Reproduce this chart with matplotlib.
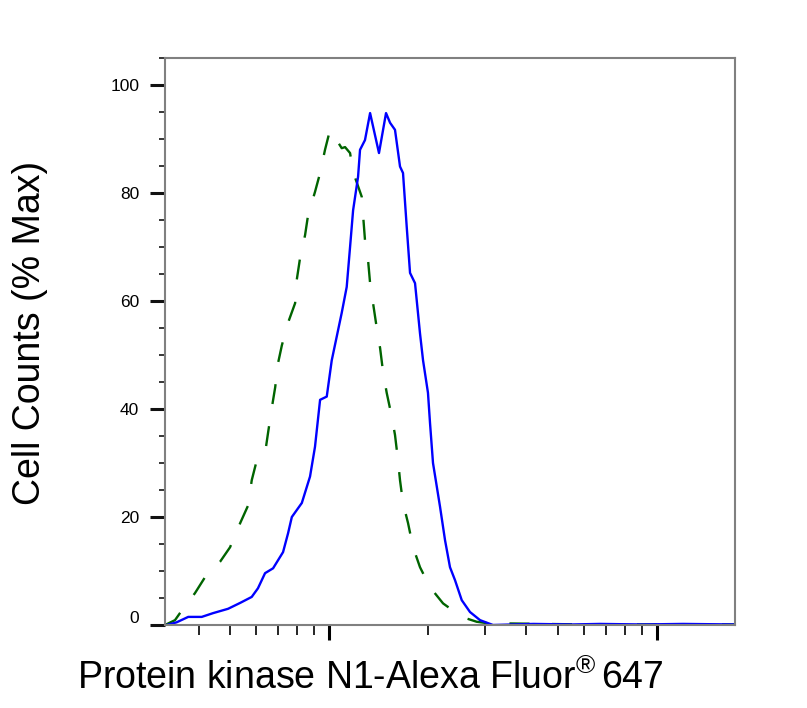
import numpy as np
import matplotlib
matplotlib.use('Agg')
import matplotlib.pyplot as plt
import matplotlib.transforms as mtransforms
from matplotlib.ticker import LogLocator, NullFormatter, FixedLocator

plt.rcParams['font.family'] = ['Liberation Sans', 'DejaVu Sans']
plt.rcParams['mathtext.fontset'] = 'custom'
plt.rcParams['mathtext.rm'] = 'Liberation Sans'
plt.rcParams['mathtext.it'] = 'Liberation Sans:italic'
plt.rcParams['mathtext.bf'] = 'Liberation Sans:bold'

# stained sample (blue, solid)
stain_x = [320, 343, 372, 409, 443, 492, 536, 581, 607, 638, 675, 724, 750, 770,
           826, 875, 906, 939, 984, 1019, 1093, 1132, 1159, 1184, 1226, 1243, 1287,
           1334, 1420, 1492, 1535, 1589, 1646, 1681, 1725, 1766, 1829, 1894, 1935,
           2003, 2032, 2075, 2180, 2258, 2338, 2422, 2539, 2691, 2887, 3162, 4200,
           5500, 6700, 9000, 12000, 17300]
stain_y = [0, 0.5, 1.5, 1.5, 2.2, 3.0, 4.1, 5.2, 6.8, 9.6, 10.5, 13.5, 17, 20,
           22.6, 27.5, 33, 41.7, 42.3, 49, 57.8, 62.6, 70, 76.8, 83, 88, 89.8,
           94.8, 87.4, 94.8, 93, 91.7, 84.9, 83.7, 73.8, 65.2, 63.3, 54, 49,
           43, 37.4, 30, 21.9, 15.7, 10.7, 8.3, 4.6, 2.4, 0.9, 0, 0.2,
           0.1, 0.2, 0.1, 0.2, 0.1]

# isotype control (green, dashed)
ctrl_x = [316, 339, 351, 390, 419, 465, 499, 536, 567, 581, 602, 638, 652, 669,
          685, 699, 718, 750, 788, 797, 816, 845, 863, 906, 939, 972, 1007, 1065,
          1093, 1119, 1159, 1184, 1258, 1270, 1287, 1315, 1334, 1362, 1398, 1431,
          1461, 1499, 1553, 1589, 1623, 1646, 1681, 1741, 1804, 1894, 2032, 2227,
          2539, 2820, 3162, 3393, 6000, 17300]
ctrl_y = [0, 0.9, 2.2, 5.9, 8.9, 11.7, 14.4, 18.9, 22.2, 26.8, 30.5, 31.8, 35.7, 40.2,
          44, 48.5, 51.8, 56, 59.6, 63.9, 68, 72.2, 75.9, 80.2, 83.7, 88, 91.7, 89.4,
          88.3, 88.5, 87.4, 83.9, 79.3, 75.9, 71.3, 67.6, 63.3, 59.6, 55, 51.3,
          46.9, 43, 38.6, 35.2, 30.5, 26.8, 22.6, 18.9, 14.4, 10.7, 7, 4,
          1.5, 0.6, 0.2, 0.3, 0.1, 0.1]

y_ticks = [0, 20, 40, 60, 80, 100]

fig = plt.figure(figsize=(8.07, 7.08), dpi=100)
ax = fig.add_axes([165/807, 1 - 625/708, 570/807, 567/708])

ax.plot(ctrl_x, ctrl_y, color='#006400', lw=1.7, linestyle=(0, (8.5, 9.5)))
ax.plot(stain_x, stain_y, color='#0000ff', lw=1.7)

ax.set_xscale('log')
ax.set_xlim(316, 17300)
ax.set_ylim(0, 105)

ax.xaxis.set_major_locator(LogLocator(base=10))
ax.xaxis.set_minor_locator(LogLocator(base=10, subs=np.arange(2, 10)))
ax.xaxis.set_major_formatter(NullFormatter())
ax.xaxis.set_minor_formatter(NullFormatter())
ax.yaxis.set_major_locator(FixedLocator(y_ticks))
ax.yaxis.set_minor_locator(FixedLocator(np.arange(0, 106, 5)))
ax.set_yticklabels([str(v) for v in y_ticks])

for s in ax.spines.values():
    s.set_color('#808080')
    s.set_linewidth(1.5)

ax.tick_params(axis='x', which='major', direction='out', length=11, width=2.2, color='black')
ax.tick_params(axis='x', which='minor', direction='out', length=7, width=1.2, color='black')
ax.tick_params(axis='y', which='major', direction='out', length=11, width=2.2,
               color='#111111', labelsize=12.5, pad=7.5)
ax.tick_params(axis='y', which='minor', direction='out', length=4.5, width=1.1, color='black')

# the "0" label sits a little above its tick
lab0 = ax.get_yticklabels()[0]
lab0.set_transform(lab0.get_transform() + mtransforms.ScaledTranslation(0, 8/100, fig.dpi_scale_trans))

ax.set_ylabel('Cell Counts (% Max)', fontsize=27, ha='center', va='center')
ax.yaxis.set_label_coords(-0.237, 0.515)
ax.set_xlabel('Protein kinase N1-Alexa Fluor$^{®}\\,$647', fontsize=27, ha='center', va='center')
ax.xaxis.set_label_coords(0.361, -0.093)

fig.savefig('out.png', dpi=100)
